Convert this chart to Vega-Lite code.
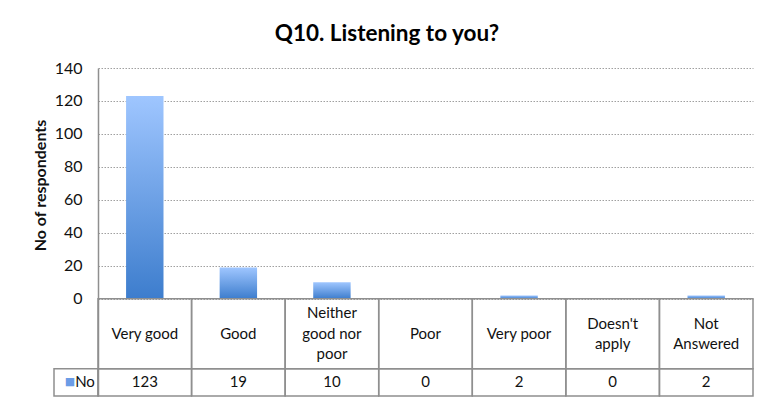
{
  "$schema": "https://vega.github.io/schema/vega-lite/v6.json",
  "padding": {"left": 32, "top": 23, "right": 8, "bottom": 6},
  "background": "white",
  "title": {"text": "Q10. Listening to you?", "fontSize": 22.5, "fontWeight": "bold", "font": "Lato", "color": "#000", "anchor": "middle", "dx": -6, "offset": 14.5},
  "datasets": {
    "responses": [
      {"answer": "Very good", "count": 123},
      {"answer": "Good", "count": 19},
      {"answer": "Neither good nor poor", "count": 10},
      {"answer": "Poor", "count": 0},
      {"answer": "Very poor", "count": 2},
      {"answer": "Doesn't apply", "count": 0},
      {"answer": "Not Answered", "count": 2}
    ],
    "series": [{"series": "No"}]
  },
  "spacing": 0,
  "bounds": "flush",
  "hconcat": [
    {
      "width": 44,
      "height": 328,
      "data": {"name": "series"},
      "layer": [
        {
          "mark": {"type": "rect", "fill": null, "stroke": "#8f8f8f", "strokeWidth": 1.5},
          "encoding": {
            "y": {"datum": -42.5, "type": "quantitative", "scale": {"domain": [-59, 140], "nice": false, "zero": false}, "axis": null},
            "y2": {"datum": -59}
          }
        },
        {
          "mark": {"type": "text", "text": "■", "color": "#6b9ce6", "font": "DejaVu Sans", "fontSize": 11, "dx": -6},
          "encoding": {
            "y": {"datum": -50.75, "type": "quantitative"}
          }
        },
        {
          "mark": {"type": "text", "font": "Lato", "fontSize": 15, "color": "#111", "dx": 9},
          "encoding": {
            "y": {"datum": -50.75, "type": "quantitative"},
            "text": {"field": "series", "type": "nominal"}
          }
        }
      ]
    },
    {
      "width": 655,
      "height": 328,
      "data": {"name": "responses"},
      "layer": [
        {
          "mark": {
            "type": "bar",
            "width": {"band": 0.4},
            "fill": {"gradient": "linear", "x1": 0, "y1": 0, "x2": 0, "y2": 1, "stops": [{"offset": 0, "color": "#9fc6ff"}, {"offset": 1, "color": "#3d7dcd"}]}
          },
          "encoding": {
            "x": {"field": "answer", "type": "nominal", "sort": null, "scale": {"paddingInner": 0, "paddingOuter": 0}, "axis": null},
            "y": {
              "field": "count", "type": "quantitative",
              "scale": {"domain": [-59, 140], "nice": false, "zero": false},
              "axis": {
                "values": [0, 20, 40, 60, 80, 100, 120, 140],
                "grid": true, "gridDash": [1.5, 1.5], "gridColor": "#a0a0a0", "gridWidth": 1,
                "domain": true, "domainColor": "#8f8f8f", "domainWidth": 1.5,
                "ticks": false, "tickSize": 0,
                "labelPadding": 16, "labelFontSize": 16, "labelColor": "#111", "labelFont": "Lato",
                "title": "No of respondents", "titleFontSize": 16, "titleFontWeight": "bold", "titleColor": "#111", "titleFont": "Lato",
                "titlePadding": 6, "titleY": 117
              }
            },
            "y2": {"datum": 0}
          }
        },
        {
          "mark": {"type": "rect", "fill": null, "stroke": "#8f8f8f", "strokeWidth": 1.5},
          "encoding": {
            "x": {"field": "answer", "type": "nominal", "sort": null},
            "y": {"datum": 0, "type": "quantitative"},
            "y2": {"datum": -42.5}
          }
        },
        {
          "mark": {"type": "rect", "fill": null, "stroke": "#8f8f8f", "strokeWidth": 1.5},
          "encoding": {
            "x": {"field": "answer", "type": "nominal", "sort": null},
            "y": {"datum": -42.5, "type": "quantitative"},
            "y2": {"datum": -59}
          }
        },
        {
          "transform": [{"filter": "indexof(['Neither good nor poor', \"Doesn't apply\", 'Not Answered'], datum.answer) < 0"}],
          "mark": {"type": "text", "font": "Lato", "fontSize": 15, "color": "#111", "baseline": "middle"},
          "encoding": {
            "x": {"field": "answer", "type": "nominal", "sort": null},
            "y": {"datum": -21.25, "type": "quantitative"},
            "text": {"field": "answer", "type": "nominal"}
          }
        },
        {
          "transform": [{"filter": "datum.answer === \"Doesn't apply\" || datum.answer === 'Not Answered'"}],
          "mark": {"type": "text", "font": "Lato", "fontSize": 15, "color": "#111", "lineHeight": 20, "baseline": "middle", "dy": -10},
          "encoding": {
            "x": {"field": "answer", "type": "nominal", "sort": null},
            "y": {"datum": -21.25, "type": "quantitative"},
            "text": {
              "condition": [
                {"test": "datum.answer === \"Doesn't apply\"", "value": ["Doesn't", "apply"]},
                {"test": "datum.answer === 'Not Answered'", "value": ["Not", "Answered"]}
              ],
              "field": "answer", "type": "nominal"
            }
          }
        },
        {
          "transform": [{"filter": "datum.answer === 'Neither good nor poor'"}],
          "mark": {"type": "text", "font": "Lato", "fontSize": 15, "color": "#111", "lineHeight": 20.5, "baseline": "middle", "dy": -20.5},
          "encoding": {
            "x": {"field": "answer", "type": "nominal", "sort": null},
            "y": {"datum": -21.25, "type": "quantitative"},
            "text": {
              "condition": {"test": "datum.answer === 'Neither good nor poor'", "value": ["Neither", "good nor", "poor"]},
              "field": "answer", "type": "nominal"
            }
          }
        },
        {
          "mark": {"type": "text", "font": "Lato", "fontSize": 15, "color": "#111", "baseline": "middle"},
          "encoding": {
            "x": {"field": "answer", "type": "nominal", "sort": null},
            "y": {"datum": -50.75, "type": "quantitative"},
            "text": {"field": "count", "type": "quantitative"}
          }
        }
      ]
    }
  ],
  "config": {"view": {"stroke": null}, "font": "Lato"}
}
